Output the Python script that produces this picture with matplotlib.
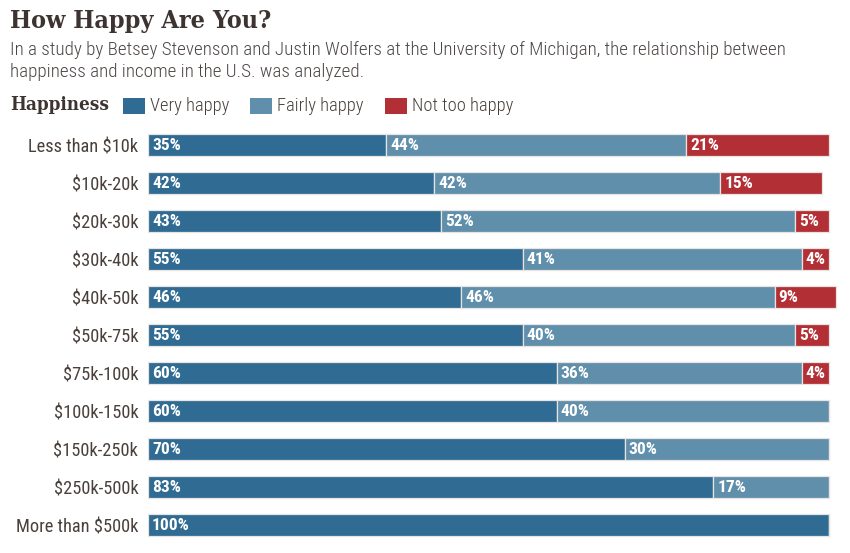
import numpy as np
import matplotlib.pyplot as plt
from matplotlib.patches import Rectangle

# data
income = ["Less than $10k", "$10k-20k", "$20k-30k", "$30k-40k", "$40k-50k",
          "$50k-75k", "$75k-100k", "$100k-150k", "$150k-250k", "$250k-500k",
          "More than $500k"]
very_happy = [35, 42, 43, 55, 46, 55, 60, 60, 70, 83, 100]
fairly_happy = [44, 42, 52, 41, 46, 40, 36, 40, 30, 17, 0]
not_too_happy = [21, 15, 5, 4, 9, 5, 4, 0, 0, 0, 0]

series_names = ["Very happy", "Fairly happy", "Not too happy"]
colors = ["#2f6b92", "#5f8fab", "#b32f36"]
text_col = "#4a403b"
narrow = ["Roboto Condensed", "DejaVu Sans"]
slab = ["DejaVu Serif"]

fig = plt.figure(figsize=(8.5, 5.53), dpi=100)
ax = fig.add_axes([148 / 850, 1 - 544 / 553, 1 - 148 / 850, 418 / 553])

y = np.arange(len(income))
left = np.zeros(len(income))
for vals, c in zip([very_happy, fairly_happy, not_too_happy], colors):
    vals = np.array(vals)
    ax.barh(y, vals, left=left, height=0.6, color=c, edgecolor="#e8e4e2", linewidth=0.9)
    for yi, l, v in zip(y, left, vals):
        if v > 0:
            ax.text(l + 0.6, yi, f"{v}%", color="white", fontsize=12.5, fontweight="bold",
                    va="center", ha="left", family=narrow)
    left = left + vals

ax.set_xlim(0, 702 / 6.81)
ax.set_ylim(len(income) - 0.5, -0.5)
ax.set_yticks(y)
ax.set_yticklabels(income, fontsize=13.2, color=text_col, family=narrow)
ax.tick_params(axis="y", length=0, pad=7)
ax.set_xticks([])
for s in ax.spines.values():
    s.set_visible(False)

# title, subtitle
fig.text(10 / 850, 1 - 21 / 553, "How Happy Are You?", fontsize=18, fontweight="bold",
         color="#3d3431", family=slab, fontstretch="condensed", va="center")
sub_col = "#4d4744"
fig.text(10 / 850, 1 - 50 / 553,
         "In a study by Betsey Stevenson and Justin Wolfers at the University of Michigan, the relationship between",
         fontsize=13.8, color=sub_col, family=narrow, fontweight="light", va="center")
fig.text(10 / 850, 1 - 72 / 553, "happiness and income in the U.S. was analyzed.",
         fontsize=13.8, color=sub_col, family=narrow, fontweight="light", va="center")

# legend row
fig.text(10 / 850, 1 - 105 / 553, "Happiness", fontsize=13.5, fontweight="bold",
         color="#3d3431", family=slab, fontstretch="condensed", va="center")
for x0, name, c in zip([123, 250, 385], series_names, colors):
    fig.patches.append(Rectangle((x0 / 850, 1 - 114 / 553), 22 / 850, 16 / 553,
                                 transform=fig.transFigure, facecolor=c, edgecolor="none"))
    fig.text((x0 + 27) / 850, 1 - 106 / 553, name, fontsize=13.3, color=text_col,
             family=narrow, fontweight="light", va="center")

fig.savefig("out.png", dpi=100)
